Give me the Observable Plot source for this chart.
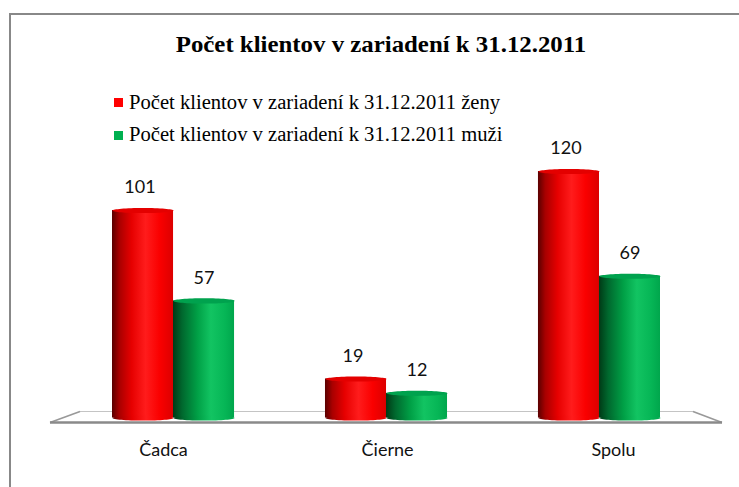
<!DOCTYPE html>
<html><head><meta charset="utf-8">
<script src="https://cdn.jsdelivr.net/npm/d3@7"></script>
<script src="https://cdn.jsdelivr.net/npm/@observablehq/plot@0.6"></script>
<style>
html,body{margin:0;padding:0;background:#fff;width:739px;height:487px;overflow:hidden;}
#frame{position:absolute;left:9px;top:13px;width:760px;height:500px;border-left:2px solid #888;border-top:2px solid #888;}
#title{position:absolute;left:0;width:762px;top:33px;text-align:center;font:bold 23px/23px "Liberation Serif","Times New Roman",serif;color:#000;white-space:nowrap;transform:scaleX(1.08);transform-origin:381px 0;}
.lg{position:absolute;left:129px;font:20px/20px "Liberation Serif","Times New Roman",serif;color:#000;white-space:nowrap;transform:scaleX(1.03);transform-origin:0 0;}
.sw{position:absolute;left:114px;width:9px;height:9px;}
#chart{position:absolute;left:10px;top:148px;}
</style></head><body>
<div id="frame"></div>
<div id="title"></div>
<div id="legend"></div>
<div id="chart"></div>
<script>
const title = "Počet klientov v zariadení k 31.12.2011";
const categories = ["Čadca", "Čierne", "Spolu"];
const seriesLabels = ["Počet klientov v zariadení k 31.12.2011 ženy", "Počet klientov v zariadení k 31.12.2011 muži"];
const zeny = [101, 19, 120];
const muzi = [57, 12, 69];
const legendColors = ["#ff0000", "#00b050"];

document.getElementById("title").textContent = title;
const legend = document.getElementById("legend");
seriesLabels.forEach((s, i) => {
  const sw = document.createElement("div");
  sw.className = "sw"; sw.style.top = (98 + i * 33) + "px"; sw.style.background = legendColors[i];
  legend.appendChild(sw);
  const t = document.createElement("div");
  t.className = "lg"; t.style.top = (92 + i * 32) + "px"; t.textContent = s;
  legend.appendChild(t);
});

const rows = categories.flatMap((c, i) => [{cat: c, s: 0, v: zeny[i]}, {cat: c, s: 1, v: muzi[i]}]);
const red = rows.filter(d => d.s === 0);
const green = rows.filter(d => d.s === 1);

const ellipse = {draw(ctx, size) {
  const rx = Math.sqrt(size / Math.PI), ry = rx * 0.085, k = 0.5523;
  ctx.moveTo(rx, 0);
  ctx.bezierCurveTo(rx, ry * k, rx * k, ry, 0, ry);
  ctx.bezierCurveTo(-rx * k, ry, -rx, ry * k, -rx, 0);
  ctx.bezierCurveTo(-rx, -ry * k, -rx * k, -ry, 0, -ry);
  ctx.bezierCurveTo(rx * k, -ry, rx, -ry * k, rx, 0);
  ctx.closePath();
}};

function grad(defs, id, stops) {
  const g = defs.append("linearGradient").attr("id", id).attr("x1", 0).attr("x2", 1).attr("y1", 0).attr("y2", 0);
  stops.forEach(([o, c]) => g.append("stop").attr("offset", o).attr("stop-color", c));
}

function floor(index, scales, values, dims) {
  const y0 = scales.y(0);
  const xl = dims.marginLeft, xr = dims.width - dims.marginRight;
  const g = d3.create("svg:g");
  const defs = g.append("defs");
  grad(defs, "cylRed", [[0, "#5a0000"], [0.12, "#a80000"], [0.32, "#e60000"], [0.55, "#ff1c1c"], [0.78, "#fa0000"], [1, "#dc0000"]]);
  grad(defs, "cylGreen", [[0, "#003a16"], [0.15, "#00682e"], [0.4, "#00a046"], [0.62, "#12c462"], [0.85, "#06b656"], [1, "#00a64c"]]);
  const fl = [xl - 62, y0 + 5], fr = [xr + 62, y0 + 5], br = [xr + 33, y0 - 6], bl = [xl - 32, y0 - 6];
  g.append("polygon").attr("points", [fl, fr, br, bl].map(p => p.join(",")).join(" ")).attr("fill", "#fff");
  g.append("line").attr("x1", bl[0]).attr("y1", bl[1]).attr("x2", br[0]).attr("y2", br[1]).attr("stroke", "#c4c4c4").attr("stroke-width", 1.2);
  g.append("line").attr("x1", fl[0]).attr("y1", fl[1]).attr("x2", bl[0]).attr("y2", bl[1]).attr("stroke", "#999").attr("stroke-width", 1.6);
  g.append("line").attr("x1", fr[0]).attr("y1", fr[1]).attr("x2", br[0]).attr("y2", br[1]).attr("stroke", "#999").attr("stroke-width", 1.6);
  g.append("line").attr("x1", fl[0]).attr("y1", fl[1]).attr("x2", fr[0]).attr("y2", fr[1]).attr("stroke", "#8a8a8a").attr("stroke-width", 2.4);
  return g.node();
}

const half = 30.5;
const labelDx = [-10, 1, 14];
const chart = Plot.plot({
  width: 729, height: 339,
  marginLeft: 102, marginRight: 79, marginTop: 23, marginBottom: 69.5,
  style: {fontFamily: "Lato, 'Open Sans', sans-serif", background: "transparent", color: "#000", overflow: "visible"},
  x: {domain: categories, paddingInner: 0.427, paddingOuter: 0, round: false, label: null},
  y: {domain: [0, 120], axis: null},
  marks: [
    floor,
    Plot.barY(red, {x: "cat", y: "v", fill: "url(#cylRed)", insetRight: 61}),
    Plot.dot(red, {x: "cat", y: () => 0, dx: -half, r: half, symbol: ellipse, fill: "url(#cylRed)", stroke: null}),
    Plot.dot(red, {x: "cat", y: "v", dx: -half, r: half, symbol: ellipse, fill: "#e40000", stroke: null}),
    Plot.barY(green, {x: "cat", y: "v", fill: "url(#cylGreen)", insetLeft: 61}),
    Plot.dot(green, {x: "cat", y: () => 0, dx: half, r: half, symbol: ellipse, fill: "url(#cylGreen)", stroke: null}),
    Plot.dot(green, {x: "cat", y: "v", dx: half, r: half, symbol: ellipse, fill: "#00a24e", stroke: null}),
    Plot.text(red, {x: "cat", y: "v", text: d => String(d.v), dx: -half - 3, dy: -23, fontSize: 18, fill: "#111"}),
    Plot.text(green, {x: "cat", y: "v", text: d => String(d.v), dx: half, dy: -23, fontSize: 18, fill: "#111"}),
    ...categories.map((c, i) => Plot.axisX([c], {tickSize: 0, tickPadding: 25, fontSize: 18, dx: labelDx[i], label: null, fill: "#111"}))
  ]
});
document.getElementById("chart").appendChild(chart);
</script>
</body></html>
